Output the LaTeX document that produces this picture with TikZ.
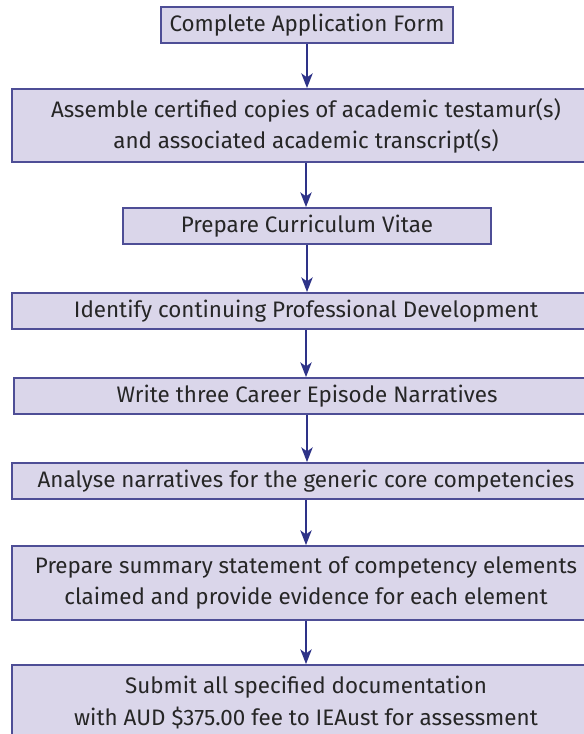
\documentclass[tikz,border=0pt]{standalone}
\usepackage{fontspec}
\setmainfont{Fira Sans}
\usetikzlibrary{arrows.meta}
\definecolor{boxfill}{HTML}{DAD6EA}
\definecolor{boxline}{HTML}{4E4E96}
\definecolor{arrcol}{HTML}{2E3388}
\definecolor{txt}{HTML}{262626}
\begin{document}
\begin{tikzpicture}[x=0.75pt,y=-0.75pt,
  stepbox/.style={draw=boxline, fill=boxfill, line width=1.4pt, inner sep=0pt,
    minimum height=27pt, align=center, text=txt,
    font=\fontsize{16.8}{23.3}\selectfont},
  arr/.style={draw=arrcol, line width=1.4pt,
    -{Stealth[length=11pt, width=8.5pt, inset=3pt]}}]
\useasboundingbox (0,0) rectangle (584,734);
\clip (0,0) rectangle (584,734);
\node[stepbox, minimum width=219pt] (b1) at (307,25) {Complete Application Form};
\node[stepbox, minimum width=441pt, minimum height=54.75pt] (b2) at (306,125.5)
  {Assemble certified copies of academic testamur(s)\\and associated academic transcript(s)};
\node[stepbox, minimum width=276pt] (b3) at (307,226) {Prepare Curriculum Vitae};
\node[stepbox, minimum width=441pt] (b4) at (306,311) {Identify continuing Professional Development};
\node[stepbox, minimum width=439.5pt] (b5) at (307,396) {Write three Career Episode Narratives};
\node[stepbox, minimum width=441pt] (b6) at (306,481) {Analyse narratives for the generic core competencies};
\node[stepbox, minimum width=441pt, minimum height=55.5pt] (b7) at (306,583)
  {Prepare summary statement of competency elements\\claimed and provide evidence for each element};
\node[stepbox, minimum width=441pt, minimum height=56.25pt] (b8) at (306,702.5)
  {Submit all specified documentation\\with AUD \$375.00 fee to IEAust for assessment};
\foreach \a/\b in {b1/b2,b2/b3,b3/b4,b4/b5,b5/b6,b6/b7,b7/b8}
  \draw[arr] (\a.south) -- (\a.south |- \b.north);
\end{tikzpicture}
\end{document}
